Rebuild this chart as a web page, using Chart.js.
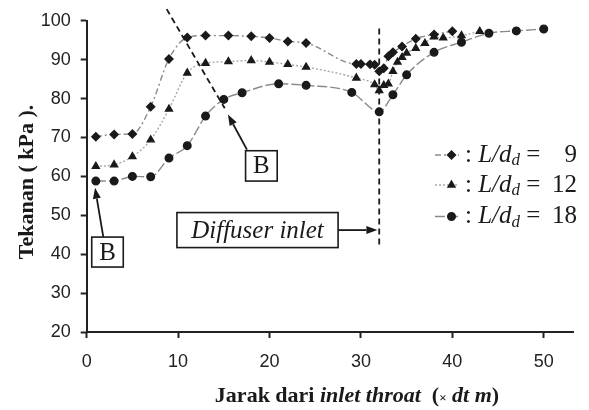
<!DOCTYPE html>
<html>
<head>
<meta charset="utf-8">
<script src="https://cdn.jsdelivr.net/npm/chart.js@4.4.1/dist/chart.umd.min.js"></script>
<style>
  html, body { margin: 0; padding: 0; background: #fff; }
  #wrap { width: 589px; height: 410px; }
</style>
</head>
<body>
<div id="wrap"><canvas id="c" width="589" height="410"></canvas></div>
<script>
// tick labels
const xTicks = [0, 10, 20, 30, 40, 50];
const yTicks = [20, 30, 40, 50, 60, 70, 80, 90, 100];

// L/dd = 9 (diamonds)
const dist9 = [1, 3, 5, 7, 9, 11, 13, 15.5, 18, 20, 22, 24, 29.5, 30, 31, 31.5, 32, 32.5, 33, 33.5, 34.5, 36, 38, 40];
const pres9 = [70.2, 70.8, 70.9, 77.9, 90.2, 95.7, 96.2, 96.2, 96.0, 95.6, 94.7, 94.3, 88.9, 88.9, 88.8, 88.7, 87.0, 87.8, 90.9, 91.9, 93.4, 95.4, 96.5, 97.3];

// L/dd = 12 (triangles)
const dist12 = [1, 3, 5, 7, 9, 11, 13, 15.5, 18, 20, 22, 24, 29.5, 31.5, 32, 32.5, 33, 33.5, 34, 34.5, 35, 36, 37, 38, 39, 41, 43];
const pres12 = [62.6, 63.0, 65.1, 69.4, 77.3, 86.6, 89.1, 89.5, 89.8, 89.4, 88.8, 88.1, 85.3, 83.6, 82.1, 83.4, 83.8, 87.0, 89.4, 90.6, 91.7, 92.9, 94.2, 95.9, 95.6, 96.2, 97.3];

// L/dd = 18 (circles)
const dist18 = [1, 3, 5, 7, 9, 11, 13, 15, 17, 21, 24, 29, 32, 33.5, 35, 38, 41, 44, 47, 50];
const pres18 = [58.8, 58.8, 60.0, 59.9, 64.7, 67.9, 75.5, 79.8, 81.5, 83.8, 83.4, 81.6, 76.6, 81.0, 86.1, 91.9, 94.5, 96.8, 97.4, 97.9];

const seriesNames = ['9', '12', '18'];

const pts = (xs, ys) => xs.map((x, i) => ({ x: x, y: ys[i] }));

const INK = '#1a1a1a';
const SERIF = '"Liberation Serif", "Times New Roman", serif';

function arrow(ctx, x1, y1, x2, y2) {
  const a = Math.atan2(y2 - y1, x2 - x1), L = 11, W = 4;
  const bx = x2 - L * Math.cos(a), by = y2 - L * Math.sin(a);
  ctx.beginPath(); ctx.moveTo(x1, y1); ctx.lineTo(bx, by); ctx.stroke();
  ctx.beginPath();
  ctx.moveTo(x2, y2);
  ctx.lineTo(bx + W * Math.sin(a), by - W * Math.cos(a));
  ctx.lineTo(bx - W * Math.sin(a), by + W * Math.cos(a));
  ctx.closePath(); ctx.fill();
}

function box(ctx, x1, y1, x2, y2, text, font) {
  ctx.fillStyle = '#fff';
  ctx.fillRect(x1, y1, x2 - x1, y2 - y1);
  ctx.lineWidth = 1.6; ctx.strokeStyle = INK;
  ctx.strokeRect(x1, y1, x2 - x1, y2 - y1);
  ctx.fillStyle = INK; ctx.font = font;
  ctx.textAlign = 'center'; ctx.textBaseline = 'middle';
  ctx.fillText(text, (x1 + x2) / 2, (y1 + y2) / 2 + 1);
}

const overlay = {
  id: 'overlay',
  afterDatasetsDraw(chart) {
    const ctx = chart.ctx, X = v => chart.scales.x.getPixelForValue(v), Y = v => chart.scales.y.getPixelForValue(v);
    ctx.save();
    ctx.strokeStyle = INK; ctx.fillStyle = INK; ctx.lineWidth = 1.8;
    // dashed guide lines
    ctx.setLineDash([6, 4]);
    ctx.beginPath(); ctx.moveTo(X(8.75), Y(103)); ctx.lineTo(X(15.1), Y(77.5)); ctx.stroke();
    ctx.beginPath(); ctx.moveTo(X(32), Y(98)); ctx.lineTo(X(32), Y(42.5)); ctx.stroke();
    ctx.setLineDash([]);
    // arrows
    ctx.lineWidth = 1.8;
    arrow(ctx, X(17.53), Y(66.9), X(15.45), Y(75.9));
    arrow(ctx, X(1.82), Y(44.4), X(0.91), Y(57.1));
    arrow(ctx, X(27.5), Y(46.2), X(31.8), Y(46.2));
    // boxes
    box(ctx, X(17.38), Y(66.6), X(20.84), Y(58.8), 'B', '25px ' + SERIF);
    box(ctx, X(0.55), Y(44.4), X(4.0), Y(36.7), 'B', '25px ' + SERIF);
    box(ctx, X(9.87), Y(50.7), X(27.5), Y(41.7), 'Diffuser inlet', 'italic 25px ' + SERIF);
    ctx.restore();
  },
  afterDraw(chart) {
    const ctx = chart.ctx;
    ctx.save();
    ctx.fillStyle = INK;
    // legend
    const rows = [155, 185, 216.5];
    chart.data.datasets.forEach((ds, i) => {
      const y = rows[i];
      ctx.strokeStyle = ds.borderColor; ctx.lineWidth = ds.borderWidth;
      ctx.setLineDash(ds.borderDash);
      ctx.beginPath(); ctx.moveTo(435, y); ctx.lineTo(459, y); ctx.stroke();
      ctx.setLineDash([]);
      ctx.fillStyle = INK; ctx.strokeStyle = INK;
      Chart.helpers.drawPoint(ctx, { pointStyle: ds.pointStyle, radius: ds.pointRadius, rotation: 0, borderWidth: 1 }, 451.5, y);
      ctx.textBaseline = 'middle'; ctx.textAlign = 'left';
      let x = 465;
      ctx.font = '25px ' + SERIF; ctx.fillText(':', x, y); x += ctx.measureText(': ').width;
      ctx.font = 'italic 25px ' + SERIF; ctx.fillText('L/d', x, y); x += ctx.measureText('L/d').width;
      ctx.font = 'italic 17px ' + SERIF; ctx.fillText('d', x, y + 6); x += ctx.measureText('d').width;
      ctx.font = '25px ' + SERIF; ctx.fillText(' =', x, y);
      ctx.textAlign = 'right'; ctx.fillText(seriesNames[i], 577, y);
    });
    // y title
    ctx.save();
    ctx.translate(27, 182); ctx.rotate(-Math.PI / 2);
    ctx.font = 'bold 22px ' + SERIF; ctx.textAlign = 'center'; ctx.textBaseline = 'middle';
    ctx.fillText('Tekanan ( kPa ).', 0, 0);
    ctx.restore();
    // x title (mixed styles)
    const parts = [
      ['Jarak dari ', 'bold 22px'], ['inlet throat', 'italic bold 22px'], ['  (', 'bold 22px'],
      ['\u00d7', 'bold 13px'], [' dt m', 'italic bold 22px'], [')', 'bold 22px']
    ];
    let total = 0;
    parts.forEach(p => { ctx.font = p[1] + ' ' + SERIF; total += ctx.measureText(p[0]).width; });
    let x = 357 - total / 2;
    ctx.textAlign = 'left'; ctx.textBaseline = 'alphabetic';
    parts.forEach(p => { ctx.font = p[1] + ' ' + SERIF; ctx.fillText(p[0], x, 402); x += ctx.measureText(p[0]).width; });
    ctx.restore();
  }
};

const axisCommon = {
  grid: { display: true, drawOnChartArea: false, drawTicks: true, tickLength: 6, tickWidth: 2, tickColor: '#222' },
  border: { display: true, color: '#222', width: 2 }
};

new Chart(document.getElementById('c'), {
  type: 'scatter',
  data: {
    datasets: [
      {
        label: 'L/dd = 9', data: pts(dist9, pres9),
        showLine: true, cubicInterpolationMode: 'monotone',
        borderColor: '#8a8a8a', borderWidth: 1.4, borderDash: [6, 3, 2, 3],
        pointStyle: 'rectRot', pointRadius: 4, pointBackgroundColor: INK, pointBorderColor: INK
      },
      {
        label: 'L/dd = 12', data: pts(dist12, pres12),
        showLine: true, cubicInterpolationMode: 'monotone',
        borderColor: '#a8a8a8', borderWidth: 1.4, borderDash: [2, 2],
        pointStyle: 'triangle', pointRadius: 4, pointBackgroundColor: INK, pointBorderColor: INK
      },
      {
        label: 'L/dd = 18', data: pts(dist18, pres18),
        showLine: true, cubicInterpolationMode: 'monotone',
        borderColor: '#8a8a8a', borderWidth: 1.4, borderDash: [10, 3],
        pointStyle: 'circle', pointRadius: 3.8, pointBackgroundColor: INK, pointBorderColor: INK
      }
    ]
  },
  options: {
    responsive: false,
    animation: false,
    devicePixelRatio: 1,
    layout: { padding: { top: 18, right: 16, left: 0, bottom: 0 } },
    plugins: { legend: { display: false }, tooltip: { enabled: false } },
    scales: {
      x: Object.assign({
        type: 'linear', min: 0, max: 53.2,
        afterBuildTicks: s => { s.ticks = xTicks.map(v => ({ value: v })); },
        afterFit: s => { s.height = 78; },
        ticks: { font: { family: '"Liberation Sans", Arial, sans-serif', size: 18 }, color: '#222', padding: 13, maxRotation: 0, autoSkip: false }
      }, axisCommon),
      y: Object.assign({
        type: 'linear', min: 20, max: 100,
        afterBuildTicks: s => { s.ticks = yTicks.map(v => ({ value: v })); },
        afterFit: s => { s.width = 86.7; },
        ticks: { font: { family: '"Liberation Sans", Arial, sans-serif', size: 18 }, color: '#222', padding: 10, autoSkip: false }
      }, axisCommon)
    }
  },
  plugins: [overlay]
});
</script>
</body>
</html>
